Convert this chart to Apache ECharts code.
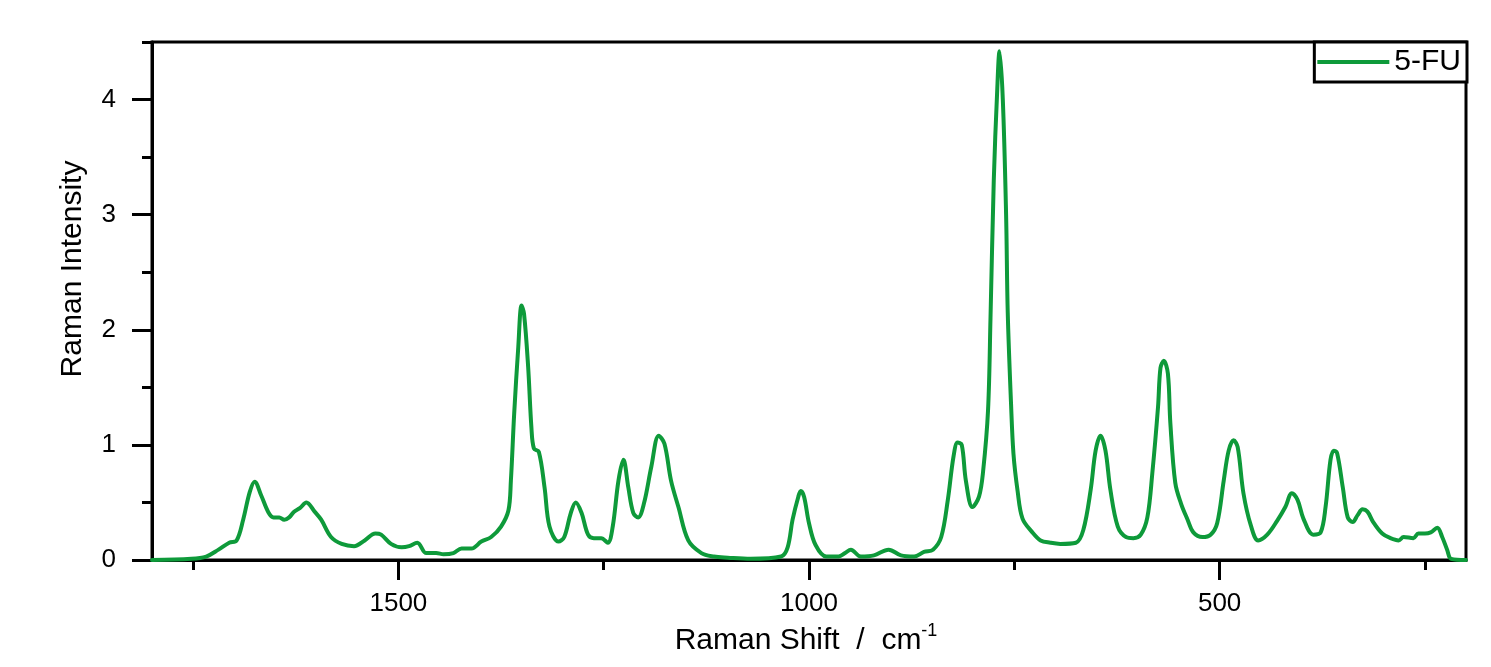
<!DOCTYPE html>
<html>
<head>
<meta charset="utf-8">
<script src="https://cdn.jsdelivr.net/npm/echarts@6/dist/echarts.min.js"></script>
<style>html,body{margin:0;padding:0;background:#fff}#c{width:1491px;height:667px}</style>
</head>
<body>
<div id="c"></div>
<script>
const seriesName = '5-FU';
const shift = [1800,1752,1734,1719,1706,1697,1689,1681,1675,1667,1658,1652,1645,1639,1633,1627,1620,1612,1602,1594,1582,1569,1554,1541,1528,1521,1509,1496,1487,1477,1466,1454,1445,1433,1423,1411,1399,1387,1375,1366,1363,1359,1354,1350,1347,1342,1338,1335,1329,1322,1316,1305,1298,1290,1284,1277,1269,1262,1253,1245,1239,1232,1226,1220,1214,1208,1201,1192,1183,1176,1168,1159,1147,1131,1116,1099,1071,1034,1026,1020,1013,1010,1006,1000,992,979,964,956,949,937,921,903,888,872,860,849,839,831,824,819,814,809,801,793,788,782,779,775,771,768,764,760,758,754,751,746,740,728,718,706,694,675,666,657,651,645,639,633,624,614,605,596,588,582,575,572,568,563,560,554,547,539,532,521,511,503,495,489,483,478,471,462,453,442,430,420,412,405,398,386,377,371,365,361,357,350,344,338,332,326,320,313,302,292,282,276,264,258,250,243,235,229,223,218,200];
const intensity = [0.00,0.01,0.03,0.09,0.15,0.17,0.35,0.59,0.68,0.56,0.41,0.37,0.37,0.35,0.37,0.42,0.45,0.50,0.42,0.35,0.20,0.14,0.12,0.17,0.23,0.22,0.14,0.11,0.12,0.15,0.06,0.06,0.05,0.06,0.10,0.10,0.16,0.20,0.29,0.43,0.69,1.27,1.85,2.21,2.14,1.68,1.15,0.97,0.94,0.63,0.29,0.16,0.20,0.41,0.50,0.41,0.22,0.19,0.19,0.15,0.29,0.69,0.87,0.63,0.41,0.37,0.49,0.81,1.08,1.01,0.69,0.46,0.17,0.06,0.03,0.02,0.01,0.03,0.11,0.35,0.55,0.60,0.55,0.32,0.13,0.03,0.03,0.06,0.09,0.03,0.04,0.09,0.04,0.03,0.07,0.09,0.20,0.52,0.90,1.02,1.00,0.69,0.46,0.55,0.77,1.30,2.10,3.30,4.05,4.42,4.00,3.00,2.15,1.36,0.92,0.60,0.36,0.24,0.17,0.15,0.14,0.15,0.26,0.61,0.95,1.08,0.95,0.61,0.29,0.20,0.19,0.22,0.37,0.75,1.33,1.67,1.73,1.62,1.19,0.67,0.49,0.35,0.24,0.20,0.22,0.32,0.69,0.95,1.04,0.98,0.58,0.30,0.17,0.22,0.34,0.46,0.58,0.52,0.36,0.22,0.24,0.46,0.87,0.95,0.93,0.63,0.37,0.33,0.39,0.44,0.42,0.33,0.23,0.19,0.17,0.20,0.19,0.23,0.23,0.24,0.28,0.20,0.09,0.01,0.00];
const xMajorTicks = [500, 1000, 1500];
const xMinorTicks = [250, 750, 1250, 1750];
const yMajorTicks = [0, 1, 2, 3, 4];
const yMinorTicks = [0.5, 1.5, 2.5, 3.5, 4.5];
const xTitle = 'Raman Shift  /  cm';
const xTitleSup = '-1';
const yTitle = 'Raman Intensity';

const FONT = 'Liberation Sans, Arial, sans-serif';
const GREEN = '#0e9a3a';
const data = shift.map((s, i) => [s, intensity[i]]);
const chart = echarts.init(document.getElementById('c'), null, {renderer: 'canvas'});
const xRange = {min: 200, max: 1800, inverse: true};
const yRange = {min: 0, max: 4.5};
const plain = v => String(v);
chart.setOption({
  animation: false,
  backgroundColor: '#fff',
  grid: {left: 152, right: 25, top: 42, bottom: 107, show: true, borderColor: '#000', borderWidth: 3, backgroundColor: 'transparent'},
  legend: {
    data: [{name: seriesName, icon: 'rect'}], right: 24, top: 42, borderColor: '#000', borderWidth: 3,
    padding: [5, 6, 5, 3], itemWidth: 72, itemHeight: 4, backgroundColor: '#fff',
    itemStyle: {color: GREEN},
    textStyle: {fontSize: 30, color: '#000', fontFamily: FONT}
  },
  xAxis: [
    Object.assign({
      type: 'value', position: 'bottom',
      axisLine: {show: true, onZero: false, lineStyle: {color: '#000', width: 3}},
      axisTick: {show: true, length: 20, lineStyle: {color: '#000', width: 3}, customValues: xMajorTicks},
      axisLabel: {customValues: xMajorTicks, formatter: plain, fontSize: 26, color: '#000', margin: 31, fontFamily: FONT},
      splitLine: {show: false},
      name: '{a|' + xTitle + '}{s|' + xTitleSup + '}',
      nameLocation: 'middle', nameGap: 62,
      nameTextStyle: {
        color: '#000', fontFamily: FONT, fontSize: 30, padding: [0, 6, 0, 0],
        rich: {
          a: {fontSize: 30, color: '#000', fontFamily: FONT, lineHeight: 34, verticalAlign: 'bottom'},
          s: {fontSize: 18, color: '#000', fontFamily: FONT, lineHeight: 20, verticalAlign: 'top'}
        }
      }
    }, xRange),
    Object.assign({
      type: 'value', position: 'bottom',
      axisLine: {show: false},
      axisTick: {show: true, length: 10, lineStyle: {color: '#000', width: 3}, customValues: xMinorTicks},
      axisLabel: {show: false},
      splitLine: {show: false}
    }, xRange)
  ],
  yAxis: [
    Object.assign({
      type: 'value', position: 'left',
      axisLine: {show: true, onZero: false, lineStyle: {color: '#000', width: 3}},
      axisTick: {show: true, length: 20, lineStyle: {color: '#000', width: 3}, customValues: yMajorTicks},
      axisLabel: {customValues: yMajorTicks, formatter: plain, fontSize: 26, color: '#000', margin: 36, fontFamily: FONT},
      splitLine: {show: false},
      name: yTitle, nameLocation: 'middle', nameGap: 64,
      nameTextStyle: {color: '#000', fontFamily: FONT, fontSize: 30, padding: [0, 0, 0, 64]}
    }, yRange),
    Object.assign({
      type: 'value', position: 'left',
      axisLine: {show: false},
      axisTick: {show: true, length: 10, lineStyle: {color: '#000', width: 3}, customValues: yMinorTicks},
      axisLabel: {show: false},
      splitLine: {show: false}
    }, yRange)
  ],
  series: [{
    type: 'line', name: seriesName, data: data, xAxisIndex: 0, yAxisIndex: 0,
    symbol: 'none', smooth: 0.35, clip: true,
    lineStyle: {color: GREEN, width: 4, join: 'round', cap: 'round'}, itemStyle: {color: GREEN}
  }]
});
</script>
</body>
</html>
